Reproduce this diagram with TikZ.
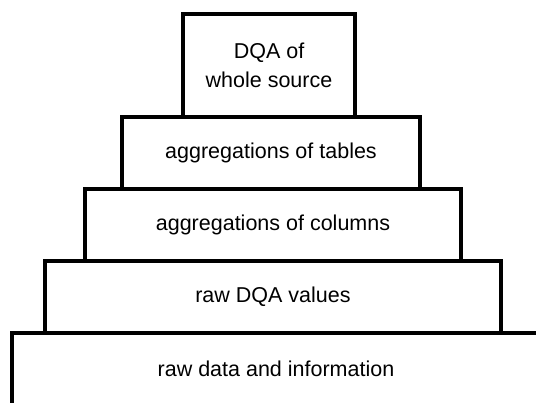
\documentclass[tikz,border=0pt]{standalone}
\usepackage{fontspec}
\setmainfont{Liberation Sans}
\begin{document}
\begin{tikzpicture}[x=1pt,y=-1pt,
  tier/.style={draw=black, line width=3.2pt, fill=none, inner sep=0pt, outer sep=0pt,
    align=center, font=\fontsize{21.5}{29}\selectfont}]
\clip (0,0) rectangle (536,403);
\node[tier, minimum width=528pt, minimum height=72pt] (l5) at (276,369) {raw data and information};
\node[tier, minimum width=456pt, minimum height=72pt] (l4) at (273,297) {raw DQA values};
\node[tier, minimum width=376pt, minimum height=72pt] (l3) at (273,225) {aggregations of columns};
\node[tier, minimum width=298pt, minimum height=72pt] (l2) at (271,153) {aggregations of tables};
\node[tier, minimum width=172pt, minimum height=103pt] (l1) at (269,65.5) {DQA of\\whole source};
\end{tikzpicture}
\end{document}
